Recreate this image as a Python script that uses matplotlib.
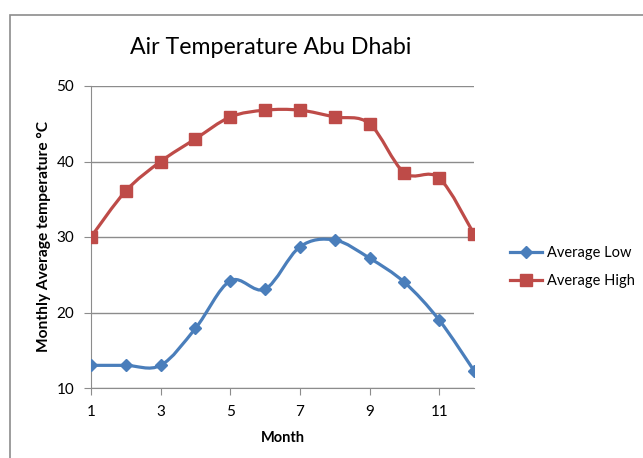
import numpy as np
import matplotlib.pyplot as plt
from matplotlib.path import Path
from matplotlib.patches import PathPatch, Rectangle

# Data
months = [1, 2, 3, 4, 5, 6, 7, 8, 9, 10, 11, 12]
avg_low = [13.0, 13.0, 13.0, 17.9, 24.2, 23.1, 28.7, 29.6, 27.2, 24.0, 19.0, 12.3]
avg_high = [30.0, 36.1, 40.0, 43.0, 45.9, 46.8, 46.8, 45.9, 45.0, 38.5, 37.8, 30.4]

blue = '#4A7EBB'
red = '#BE4B48'
font = ['Lato', 'DejaVu Sans']


def smooth_path(x, y):
    # Catmull-Rom style bezier, like Excel's "smoothed line"
    pts = np.column_stack([x, y]).astype(float)
    n = len(pts)
    verts = [pts[0]]
    codes = [Path.MOVETO]
    for i in range(n - 1):
        p0 = pts[i - 1] if i > 0 else pts[i]
        p1 = pts[i]
        p2 = pts[i + 1]
        p3 = pts[i + 2] if i + 2 < n else pts[i + 1]
        c1 = p1 + (p2 - p0) / 6.0
        c2 = p2 - (p3 - p1) / 6.0
        verts += [c1, c2, p2]
        codes += [Path.CURVE4] * 3
    return Path(verts, codes)


fig = plt.figure(figsize=(6.43, 4.58), dpi=100)
fig.patches.append(Rectangle((10 / 643, -0.1), 1.0, 1 - 15 / 458 + 0.1,
                             transform=fig.transFigure, fill=False,
                             edgecolor='#8C8C8C', linewidth=1.2))

ax = fig.add_axes([91 / 643, 1 - 388 / 458, (474 - 91) / 643, (388 - 86) / 458])

for vals, col, mk, ms, lab in [(avg_low, blue, 'D', 6.5, 'Average Low'),
                                (avg_high, red, 's', 8, 'Average High')]:
    ax.add_patch(PathPatch(smooth_path(months, vals), facecolor='none',
                           edgecolor=col, linewidth=2.3, zorder=3))
    ax.plot(months, vals, linestyle='none', marker=mk, markersize=ms,
            color=col, zorder=4)
    ax.plot([], [], color=col, linewidth=2.3, marker=mk, markersize=ms, label=lab)

ax.set_xlim(1, 12)
ax.set_ylim(10, 50)
ax.set_xticks([1, 3, 5, 7, 9, 11])
ax.set_yticks([10, 20, 30, 40, 50])
ax.yaxis.grid(True, color='#8C8C8C', linewidth=1)
ax.set_axisbelow(True)
for s in ['top', 'right']:
    ax.spines[s].set_visible(False)
for s in ['left', 'bottom']:
    ax.spines[s].set_color('#8C8C8C')
ax.tick_params(direction='out', length=5, color='#8C8C8C', labelsize=11, pad=7)
for lbl in ax.get_xticklabels() + ax.get_yticklabels():
    lbl.set_family(font)

fig.text(271 / 643, 1 - 47 / 458, 'Air Temperature Abu Dhabi', family=font,
         fontsize=16.7, ha='center', va='center')
ax.set_xlabel('Month', family=font, fontweight='bold', fontsize=10.5, labelpad=9)
ax.set_ylabel('Monthly Average temperature °C', family=font, fontweight='bold',
              fontsize=11.2, labelpad=4)

ax.legend(loc='center left', bbox_to_anchor=(1.06, 0.40), frameon=False,
          prop={'family': font, 'size': 10.5}, handlelength=2.2,
          handletextpad=0.3, labelspacing=1.0)

fig.savefig('out.png', dpi=100)
